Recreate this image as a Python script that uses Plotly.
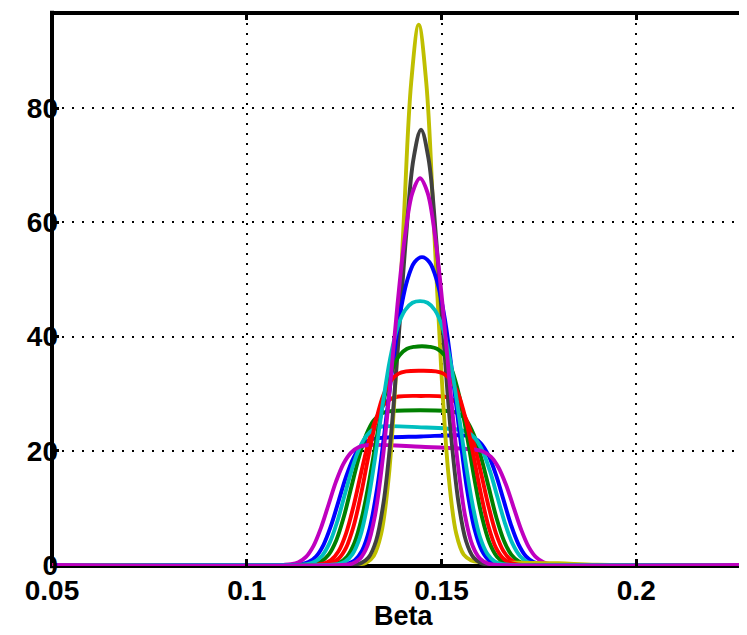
import plotly.graph_objects as go

# ---- data ----
x_ticks = [0.05, 0.1, 0.15, 0.2]
x_tick_labels = ["0.05", "0.1", "0.15", "0.2"]
y_ticks = [0, 20, 40, 60, 80]
y_tick_labels = ["0", "20", "40", "60", "80"]
x_label = "Beta"

x_blue_wide = [0.05, 0.1120, 0.11393, 0.11585, 0.11778, 0.11971, 0.12163, 0.12356, 0.12548, 0.12741, 0.12933, 0.13126, 0.13318, 0.14474, 0.15629, 0.15822, 0.16014, 0.16207, 0.16399, 0.16592, 0.16784, 0.16977, 0.17169, 0.17362, 0.17555, 0.17747, 0.2284]
y_blue_wide = [0, 0.03, 0.14, 0.51, 1.49, 3.54, 6.88, 11.15, 15.42, 18.76, 20.81, 21.79, 22.16, 22.5, 22.66, 22.28, 21.28, 19.18, 15.77, 11.4, 7.03, 3.62, 1.52, 0.52, 0.14, 0.03, 0]

x_green_wide = [0.05, 0.11526, 0.11719, 0.11911, 0.12104, 0.12297, 0.12489, 0.12682, 0.12874, 0.13067, 0.13259, 0.13452, 0.13644, 0.14448, 0.15252, 0.15444, 0.15637, 0.15829, 0.16022, 0.16214, 0.16407, 0.166, 0.16792, 0.16985, 0.17177, 0.1737, 0.2284]
y_green_wide = [0, 0.04, 0.17, 0.62, 1.81, 4.3, 8.36, 13.55, 18.7, 22.8, 25.3, 26.5, 26.9, 27.1, 26.9, 26.5, 25.3, 22.8, 18.7, 13.55, 8.36, 4.3, 1.81, 0.62, 0.17, 0.04, 0]

x_red_wide = [0.05, 0.11778, 0.11971, 0.12163, 0.12356, 0.12548, 0.12741, 0.12934, 0.13126, 0.13319, 0.13511, 0.13704, 0.13896, 0.14474, 0.15052, 0.15244, 0.15437, 0.15629, 0.15822, 0.16014, 0.16207, 0.164, 0.16592, 0.16785, 0.16977, 0.1717, 0.2284]
y_red_wide = [0, 0.05, 0.25, 0.86, 2.4, 5.5, 10.3, 16.1, 21.55, 25.6, 28.0, 29.1, 29.5, 29.6, 29.5, 29.1, 28.0, 25.6, 21.55, 16.1, 10.3, 5.5, 2.4, 0.86, 0.25, 0.05, 0]

x_cyan_wide = [0.05, 0.11357, 0.11549, 0.11742, 0.11935, 0.12127, 0.1232, 0.12512, 0.12705, 0.12897, 0.1309, 0.13282, 0.13475, 0.14474, 0.15472, 0.15665, 0.15858, 0.1605, 0.16243, 0.16435, 0.16628, 0.1682, 0.17013, 0.17205, 0.17398, 0.1759, 0.2284]
y_cyan_wide = [0, 0.03, 0.15, 0.56, 1.63, 3.87, 7.53, 12.2, 16.87, 20.53, 22.77, 23.84, 24.25, 24.1, 23.65, 23.26, 22.21, 20.02, 16.46, 11.9, 7.34, 3.78, 1.59, 0.54, 0.15, 0.03, 0]

x_magenta_wide = [0.05, 0.10944, 0.11136, 0.11329, 0.11521, 0.11714, 0.11906, 0.12099, 0.12291, 0.12484, 0.12677, 0.12869, 0.13062, 0.14474, 0.15886, 0.16078, 0.16271, 0.16463, 0.16656, 0.16849, 0.17041, 0.17234, 0.17426, 0.17619, 0.17811, 0.18004, 0.2284]
y_magenta_wide = [0, 0.03, 0.13, 0.48, 1.41, 3.35, 6.51, 10.55, 14.59, 17.75, 19.69, 20.62, 20.97, 20.7, 20.17, 19.84, 18.94, 17.08, 14.04, 10.15, 6.26, 3.22, 1.36, 0.46, 0.13, 0.03, 0]

x_yellow = [0.05, 0.12875, 0.13067, 0.1326, 0.13452, 0.13645, 0.13837, 0.1403, 0.14222, 0.14415, 0.14608, 0.148, 0.14993, 0.15185, 0.15378, 0.1557, 0.15763, 0.16, 0.17, 0.18, 0.19, 0.2284]
y_yellow = [0, 0.1, 0.4, 1.6, 5.5, 15.4, 34.2, 60.2, 84.5, 94.6, 84.5, 60.2, 34.2, 15.4, 5.5, 1.8, 0.8, 0.5, 0.4, 0.3, 0.05, 0]

x_black = [0.05, 0.12741, 0.12934, 0.13126, 0.13319, 0.13511, 0.13704, 0.13896, 0.14089, 0.14281, 0.14474, 0.14667, 0.14859, 0.15052, 0.15244, 0.15437, 0.15629, 0.15822, 0.16014, 0.16207, 0.2284]
y_black = [0, 0.07, 0.33, 1.3, 4.2, 10.9, 22.8, 39.5, 57.4, 71.1, 76.2, 71.1, 57.4, 39.5, 22.8, 10.9, 4.2, 1.3, 0.33, 0.07, 0]

x_blue_narrow = [0.05, 0.12381, 0.12573, 0.12766, 0.12959, 0.13151, 0.13344, 0.13536, 0.13729, 0.13921, 0.14114, 0.14306, 0.14499, 0.14692, 0.14884, 0.15077, 0.15269, 0.15462, 0.15654, 0.15847, 0.16039, 0.16232, 0.16425, 0.16617, 0.2284]
y_blue_narrow = [0, 0.04, 0.19, 0.77, 2.5, 6.3, 13.3, 23.2, 34.0, 43.4, 49.7, 53.0, 53.9, 53.0, 49.7, 43.4, 34.0, 23.2, 13.3, 6.3, 2.5, 0.77, 0.19, 0.04, 0]

x_green_narrow = [0.05, 0.12188, 0.12381, 0.12573, 0.12766, 0.12959, 0.13151, 0.13344, 0.13536, 0.13729, 0.13921, 0.14114, 0.14306, 0.14499, 0.14692, 0.14884, 0.15077, 0.15269, 0.15462, 0.15654, 0.15847, 0.16039, 0.16232, 0.16425, 0.16617, 0.1681, 0.2284]
y_green_narrow = [0, 0.11, 0.44, 1.46, 3.9, 8.4, 15.0, 22.6, 29.4, 34.1, 36.7, 37.85, 38.2, 38.3, 38.2, 37.85, 36.7, 34.1, 29.4, 22.6, 15.0, 8.4, 3.9, 1.46, 0.44, 0.11, 0]

x_red_narrow = [0.05, 0.11971, 0.12163, 0.12356, 0.12548, 0.12741, 0.12934, 0.13126, 0.13319, 0.13511, 0.13704, 0.13896, 0.14089, 0.14474, 0.14859, 0.15052, 0.15244, 0.15437, 0.15629, 0.15822, 0.16014, 0.16207, 0.164, 0.16592, 0.16785, 0.16977, 0.2284]
y_red_narrow = [0, 0.06, 0.32, 1.1, 3.0, 6.75, 12.4, 19.1, 25.3, 29.8, 32.3, 33.5, 33.9, 34.0, 33.9, 33.5, 32.3, 29.8, 25.3, 19.1, 12.4, 6.75, 3.0, 1.1, 0.32, 0.06, 0]

x_cyan_narrow = [0.05, 0.12137, 0.1233, 0.12522, 0.12715, 0.12908, 0.131, 0.13293, 0.13485, 0.13678, 0.1387, 0.14063, 0.14255, 0.14448, 0.14641, 0.14833, 0.15026, 0.15218, 0.15411, 0.15603, 0.15796, 0.15988, 0.16181, 0.16374, 0.16566, 0.16759, 0.2284]
y_cyan_narrow = [0, 0.03, 0.14, 0.57, 1.9, 4.9, 10.6, 18.7, 27.9, 36.0, 41.6, 44.6, 45.9, 46.2, 45.9, 44.6, 41.6, 36.0, 27.9, 18.7, 10.6, 4.9, 1.9, 0.57, 0.14, 0.03, 0]

x_magenta_narrow = [0.05, 0.12522, 0.12715, 0.12908, 0.131, 0.13293, 0.13485, 0.13678, 0.1387, 0.14063, 0.14255, 0.14448, 0.14641, 0.14833, 0.15026, 0.15218, 0.15411, 0.15603, 0.15796, 0.15988, 0.16181, 0.16374, 0.2284]
y_magenta_narrow = [0, 0.05, 0.27, 1.1, 3.4, 8.7, 18.2, 31.3, 45.6, 57.6, 65.2, 67.7, 65.2, 57.6, 45.6, 31.3, 18.2, 8.7, 3.4, 1.1, 0.27, 0.05, 0]

# ---- styling ----
BLUE, GREEN, RED, CYAN, MAGENTA, YELLOW, DARK = (
    "#0000FF", "#008000", "#FF0000", "#00BFBF", "#BF00BF", "#BFBF00", "#404040")

series = [
    (x_blue_wide, y_blue_wide, BLUE),
    (x_green_wide, y_green_wide, GREEN),
    (x_red_wide, y_red_wide, RED),
    (x_cyan_wide, y_cyan_wide, CYAN),
    (x_magenta_wide, y_magenta_wide, MAGENTA),
    (x_yellow, y_yellow, YELLOW),
    (x_black, y_black, DARK),
    (x_blue_narrow, y_blue_narrow, BLUE),
    (x_green_narrow, y_green_narrow, GREEN),
    (x_red_narrow, y_red_narrow, RED),
    (x_cyan_narrow, y_cyan_narrow, CYAN),
    (x_magenta_narrow, y_magenta_narrow, MAGENTA),
]

fig = go.Figure()
for xs, ys, col in series:
    fig.add_trace(go.Scatter(x=xs, y=ys, mode="lines",
                             line=dict(color=col, width=3.9, shape="spline", smoothing=1),
                             hoverinfo="skip"))

FONT = "Liberation Sans, Arial, Helvetica, sans-serif"
tickfont = dict(family=FONT, size=28, color="black", weight="bold")

# the page body has an 8px margin, so the figure is sized to end at the window's edge
fig.update_layout(
    width=739, height=627,
    margin=dict(l=44, r=0, t=5, b=69),
    plot_bgcolor="white", paper_bgcolor="white",
    showlegend=False,
    xaxis=dict(range=[0.05, 0.22843], tickmode="array", tickvals=x_ticks, ticktext=x_tick_labels,
               showgrid=True, gridcolor="black", gridwidth=1.5, griddash="2px,8px",
               ticks="inside", ticklen=7, tickwidth=3, tickcolor="black", mirror="ticks",
               showline=False, zeroline=False, tickfont=tickfont, ticklabelstandoff=5),
    yaxis=dict(range=[-0.175, 96.64], tickmode="array", tickvals=y_ticks, ticktext=y_tick_labels,
               showgrid=True, gridcolor="black", gridwidth=1.5, griddash="2px,8px",
               ticks="inside", ticklen=7, tickwidth=3, tickcolor="black", mirror="ticks",
               showline=False, zeroline=False, tickfont=tickfont, ticklabelstandoff=-7),
    shapes=[
        dict(type="line", xref="paper", yref="paper", x0=0, x1=1.02, y0=1, y1=1,
             line=dict(color="black", width=4), layer="between"),
        dict(type="line", xref="paper", yref="paper", x0=0, x1=1.02, y0=0, y1=0,
             line=dict(color="black", width=4), layer="between"),
        dict(type="line", xref="paper", yref="paper", x0=0, x1=0, y0=-0.004, y1=1.004,
             line=dict(color="black", width=4), layer="between"),
    ],
    annotations=[
        dict(text=x_label, xref="paper", yref="paper", x=0.5065, y=0, yshift=-67,
             xanchor="center", yanchor="bottom", showarrow=False,
             font=dict(family=FONT, size=27, color="black", weight="bold")),
    ],
)

fig.write_html("out.html")
